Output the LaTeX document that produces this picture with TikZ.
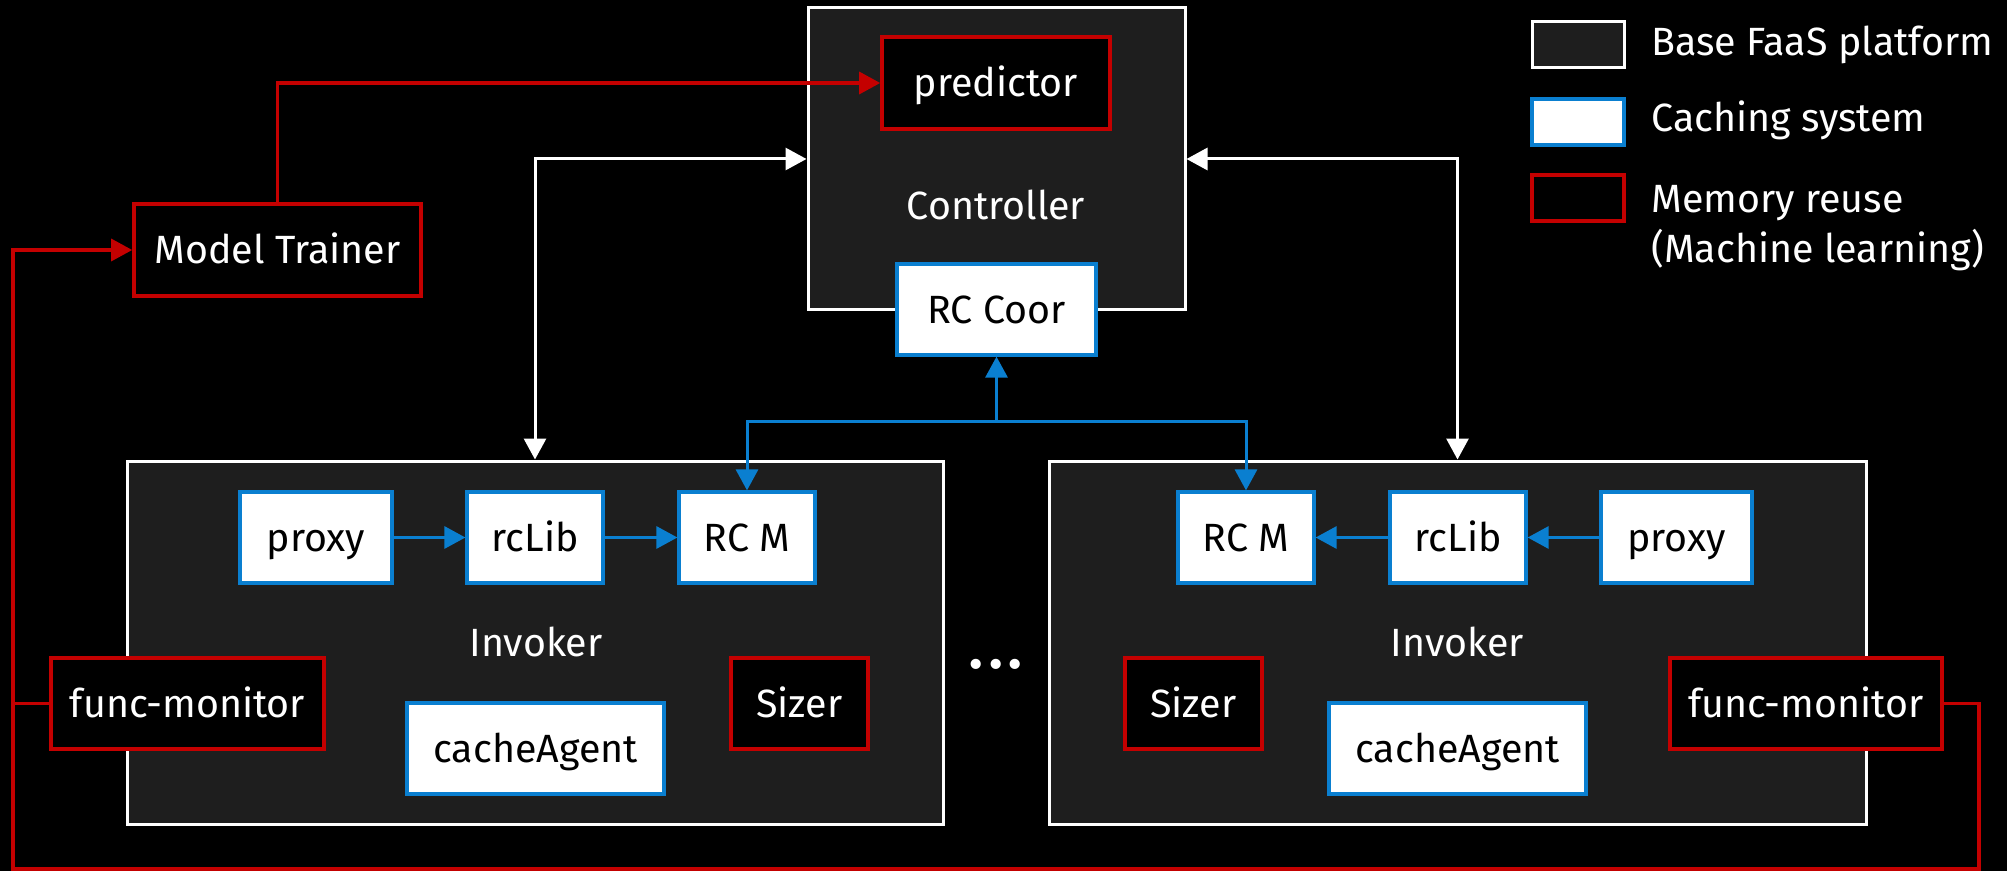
\documentclass[tikz,border=0pt]{standalone}
\usepackage{fontspec}
\setmainfont{Fira Sans}
\usetikzlibrary{arrows.meta}
\definecolor{rd}{HTML}{C40000}
\definecolor{bl}{HTML}{0A7FD0}
\definecolor{dk}{HTML}{1E1E1E}
\tikzset{
  capc/.style={text height=13.6pt, text depth=0pt},
  base/.style={draw=white, line width=1.5pt, fill=dk, inner sep=0pt},
  cache/.style={draw=bl, line width=1.6pt, fill=white, text=black, inner sep=0pt, minimum height=45.5pt, capc},
  mem/.style={draw=rd, line width=1.8pt, fill=black, text=white, inner sep=0pt, minimum height=45.5pt, capc},
  lbl/.style={text=white, inner sep=0pt},
  tip/.style={-{Triangle[length=10.5pt,width=11pt]}},
  wline/.style={draw=white, line width=1.5pt},
  bline/.style={draw=bl, line width=1.5pt, tip},
  rline/.style={draw=rd, line width=1.6pt}
}
\begin{document}
\begin{tikzpicture}[x=0.5pt,y=-0.5pt,font=\fontsize{19.7pt}{25pt}\selectfont]
\fill[black] (0,0) rectangle (2007,871);
\useasboundingbox (0,0) rectangle (2007,871);
% big boxes
\node[base, minimum width=188.5pt, minimum height=151pt] (ctrl) at (996.5,159) {};
\node[base, minimum width=408pt, minimum height=181.5pt] (invL) at (535,642.5) {};
\node[base, minimum width=408.5pt, minimum height=181.5pt] (invR) at (1457.5,642.5) {};
\node[lbl, capc] (ctrltxt) at (996,206) {Controller};
\node[lbl, capc] (invLtxt) at (536,642.5) {Invoker};
\node[lbl, capc] (invRtxt) at (1457.5,642.5) {Invoker};
% inner boxes
\node[mem, minimum width=114pt, minimum height=46pt] (pred) at (996,83) {predictor};
\node[cache, minimum width=99.5pt] (rccoor) at (996.5,309.5) {RC Coor};
\node[mem, minimum width=143.5pt, minimum height=46pt] (trainer) at (277.5,250) {Model Trainer};
\node[cache, minimum width=76pt] (proxyL) at (316,537.5) {proxy};
\node[cache, minimum width=68pt] (rclibL) at (535,537.5) {rcLib};
\node[cache, minimum width=68pt] (rcmL) at (747,537.5) {RC M};
\node[mem, minimum width=136.5pt] (fmL) at (187.5,703.5) {func-monitor};
\node[mem, minimum width=68.5pt] (sizerL) at (799.5,703.5) {Sizer};
\node[cache, minimum width=128.5pt] (caL) at (535.5,748.5) {cacheAgent};
\node[cache, minimum width=68pt] (rcmR) at (1246,537.5) {RC M};
\node[cache, minimum width=68pt] (rclibR) at (1458,537.5) {rcLib};
\node[cache, minimum width=75.5pt] (proxyR) at (1676.5,537.5) {proxy};
\node[mem, minimum width=68.5pt] (sizerR) at (1193.5,703.5) {Sizer};
\node[cache, minimum width=128.5pt] (caR) at (1457.5,748.5) {cacheAgent};
\node[mem, minimum width=136pt] (fmR) at (1806,703.5) {func-monitor};
\node[lbl, anchor=base, font=\fontsize{28pt}{28pt}\bfseries] (dots) at (996,668) {.\hspace{3pt}.\hspace{3pt}.};
% legend
\node[base, minimum width=46pt, minimum height=23pt] (lg1) at (1578,45) {};
\node[cache, minimum width=46pt, minimum height=23pt] (lg2) at (1578,122) {};
\node[mem, minimum width=46pt, minimum height=23pt] (lg3) at (1578,198) {};
\node[lbl, anchor=base west] (lt1) at (1651,56) {Base FaaS platform};
\node[lbl, anchor=base west] (lt2) at (1651,131.7) {Caching system};
\node[lbl, anchor=base west] (lt3) at (1651,213) {Memory reuse};
\node[lbl, anchor=base west] (lt4) at (1651,263) {(Machine learning)};
% white connectors
\draw[wline, {Triangle[length=10.5pt,width=11pt]}-{Triangle[length=10.5pt,width=11pt]}] (invL.north) |- (ctrl.west);
\draw[wline, {Triangle[length=10.5pt,width=11pt]}-{Triangle[length=10.5pt,width=11pt]}] (ctrl.east) -| (invR.north);
% blue connectors
\coordinate (bj) at (996.5,422);
\draw[bline] (bj) -- (rccoor.south);
\draw[bline] (bj) -| (rcmL.north);
\draw[bline] (bj) -| (rcmR.north);
\draw[bline] (proxyL) -- (rclibL);
\draw[bline] (rclibL) -- (rcmL);
\draw[bline] (proxyR) -- (rclibR);
\draw[bline] (rclibR) -- (rcmR);
% red connectors
\coordinate (rl) at (13,869);
\coordinate (rr) at (1979,869);
\draw[rline, tip] (trainer.north) |- (pred.west);
\draw[rline, tip] (fmR.east) -| (rr) -- (rl) |- (trainer.west);
\draw[rline] (fmL.west) -- (fmL.west -| rl);
\end{tikzpicture}
\end{document}
